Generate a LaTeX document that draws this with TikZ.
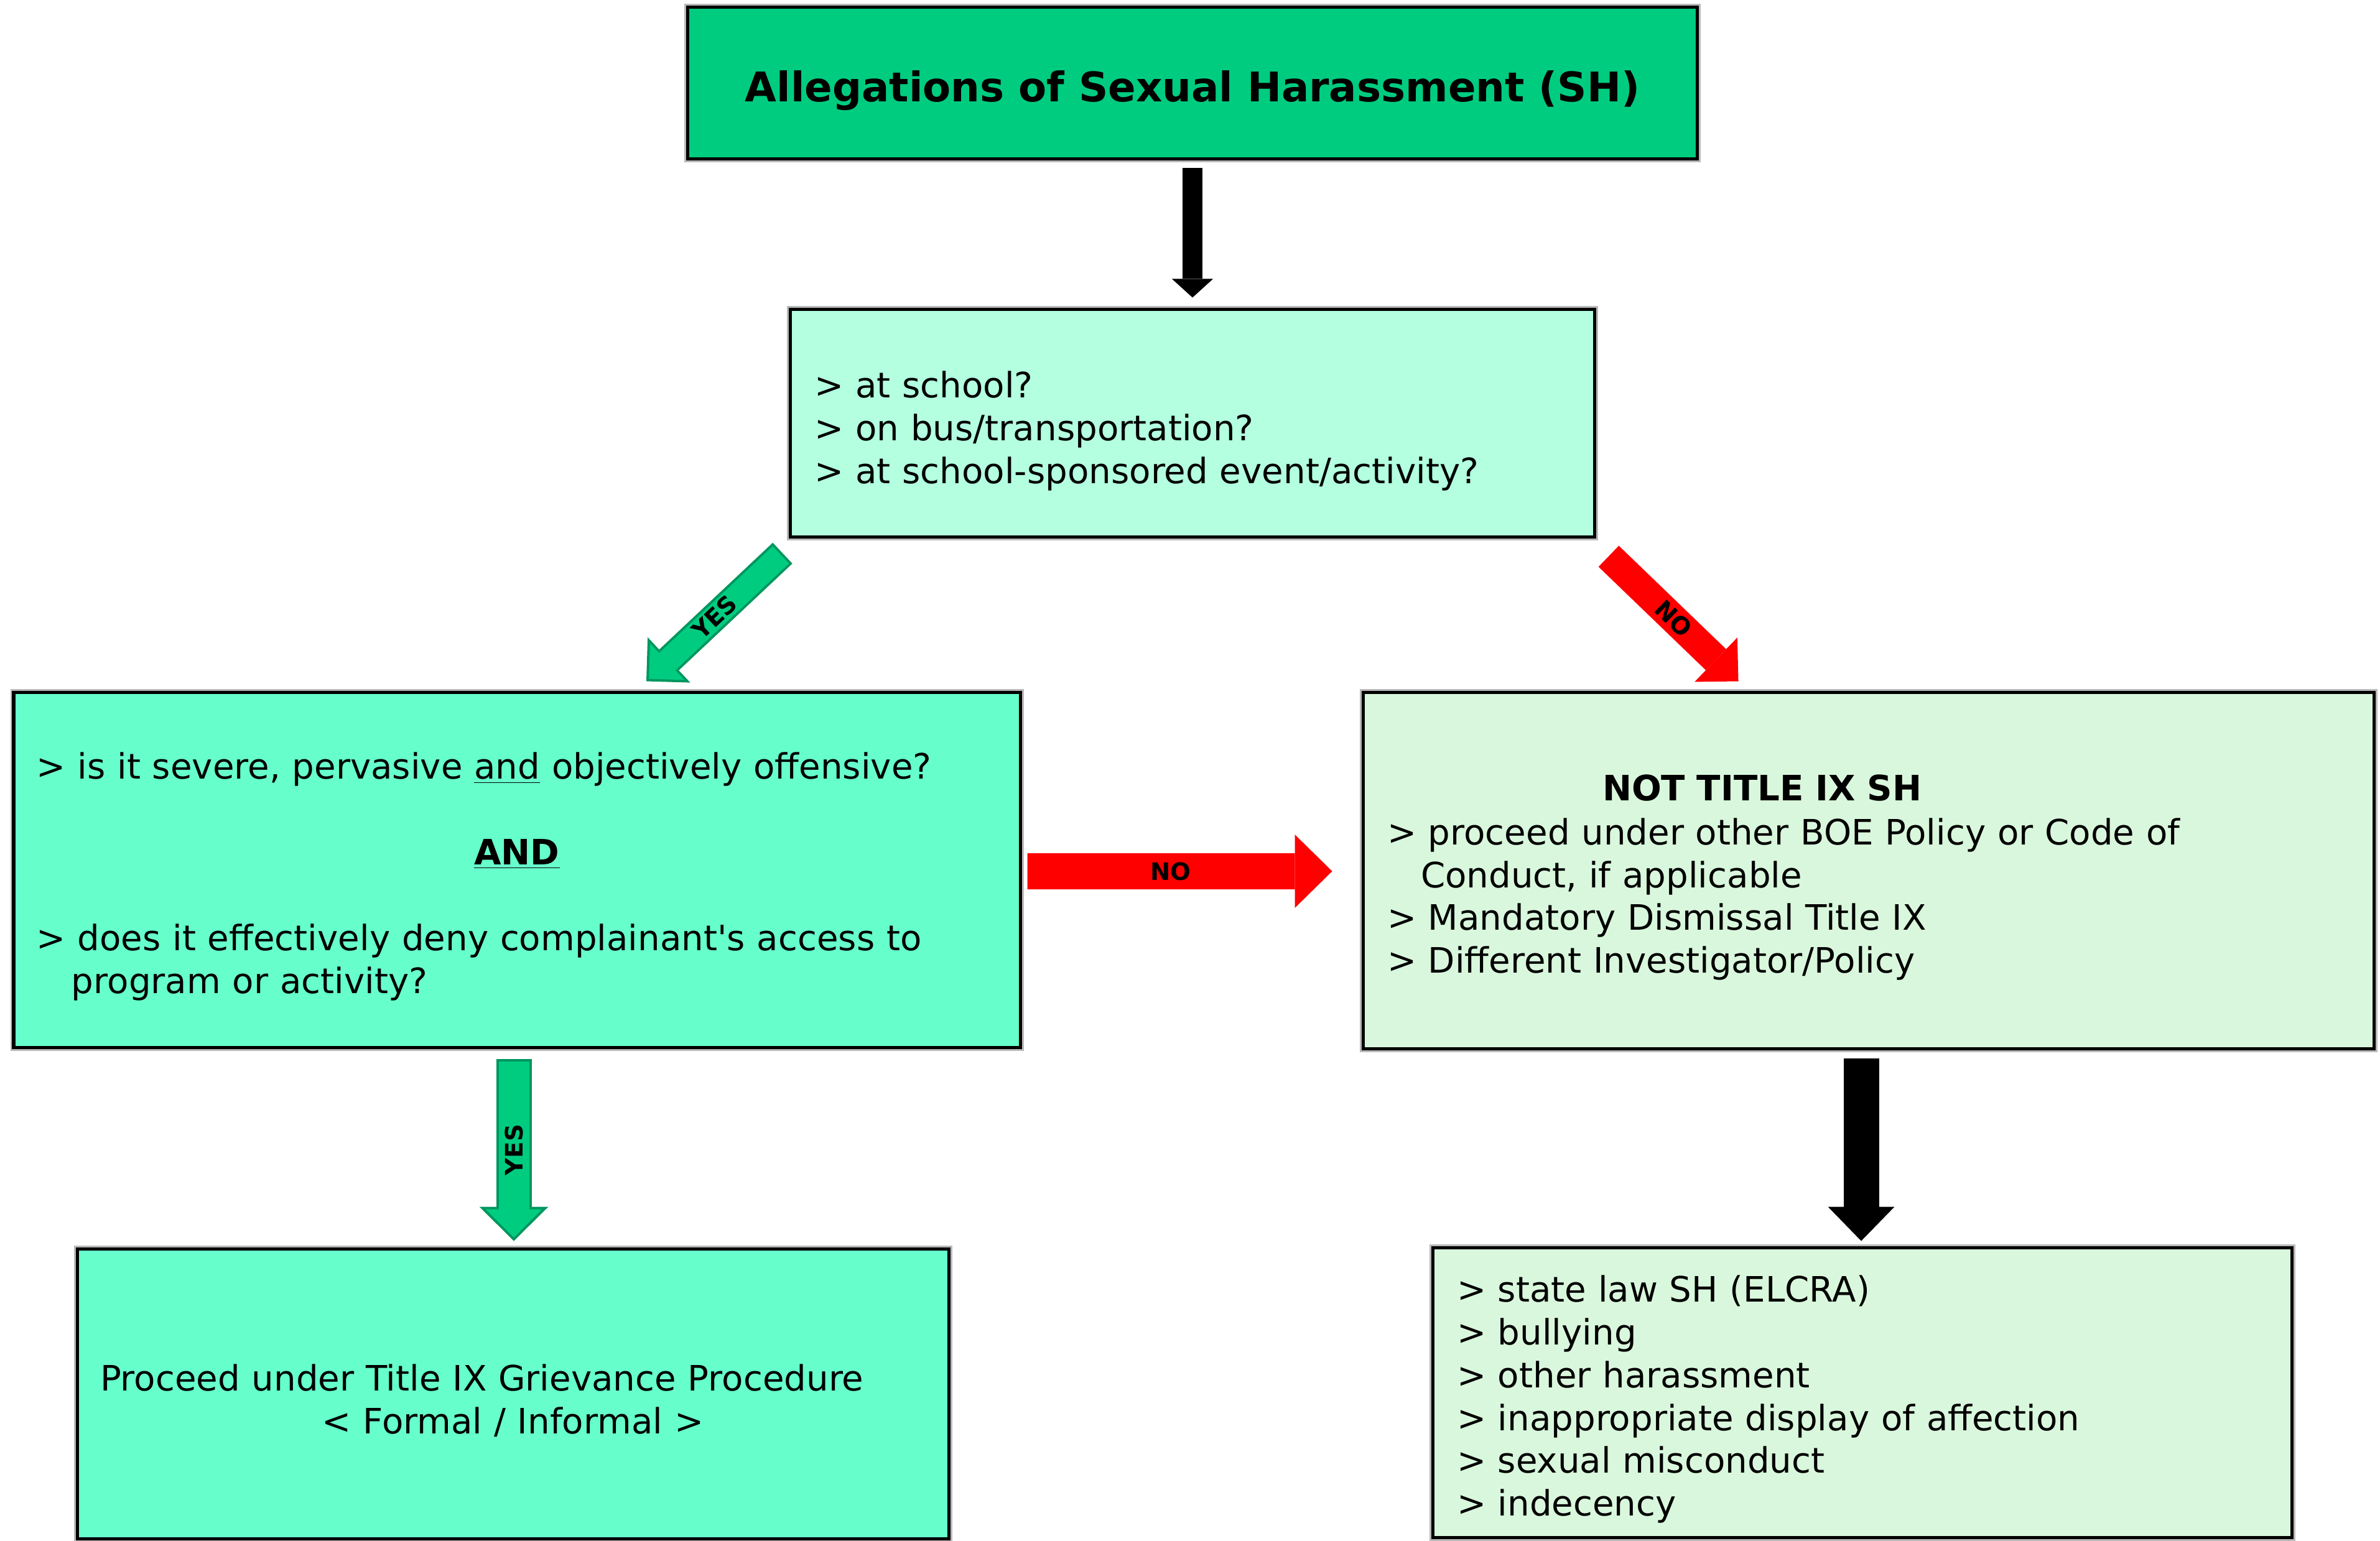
\documentclass[tikz,border=0pt]{standalone}
\usepackage{fontspec}
\setmainfont{DejaVu Sans}
\usetikzlibrary{arrows.meta}

\definecolor{titlegreen}{RGB}{0,204,128}
\definecolor{askmint}{RGB}{179,255,224}
\definecolor{critmint}{RGB}{102,255,204}
\definecolor{notgreen}{RGB}{217,247,220}
\definecolor{yesgreen}{RGB}{0,204,128}
\definecolor{yesdark}{RGB}{0,150,95}
\definecolor{nored}{RGB}{255,0,0}

\newcommand{\bodyfont}{\fontsize{16}{19.6}\selectfont}
\newcommand{\titlefont}{\fontsize{18.7}{22}\selectfont\bfseries}
\newcommand{\lowertxt}{\rule{0pt}{0.65cm}}

\tikzset{
  box/.style={draw=black, line width=0.05cm, preaction={draw=gray!55, line width=0.11cm},
    inner ysep=0pt, font=\bodyfont},
  txtbox/.style={box, align=left, inner xsep=0.38cm},
  tag/.style={font=\fontsize{11}{13}\selectfont\bfseries, inner sep=0pt},
  blkarrow/.style n args={3}{draw=black, line width=#1,
    -{Triangle[width=#2 0, length=#3 0, line width'=0pt]}},
  noarrow/.style n args={3}{draw=nored, line width=#1,
    -{Triangle[width=#2 0, length=#3 0, line width'=0pt]}},
  yesedge/.style n args={3}{draw=yesdark, line width=#1,
    -{Triangle[width=#2 0, length=#3 0, line width'=0pt]}},
  yesfill/.style n args={3}{draw=yesgreen, line width=#1, shorten <=0.04cm, shorten >=0.057cm,
    -{Triangle[width=#2 0, length=#3 0, line width'=0pt]}}
}

\begin{document}
\begin{tikzpicture}
  \useasboundingbox (0,0) rectangle (38.26,-24.78);

  % boxes
  \node[box, fill=titlegreen, minimum width=16.23cm, minimum height=2.44cm, font=\titlefont,
    text height=0.76cm, text depth=0.16cm]
    (top) at (19.17,-1.34) {Allegations of Sexual Harassment (SH)};
  \node[txtbox, fill=askmint, text width=12.15cm, inner xsep=0.39cm, minimum height=3.66cm]
    (ask) at (19.17,-6.81)
    {\rule{0pt}{0.67cm}> at school?\\ > on bus/transportation?\\ > at school-sponsored event/activity?};
  \node[txtbox, fill=critmint, text width=15.44cm, inner xsep=0.37cm, minimum height=5.71cm]
    (crit) at (8.31,-13.985)
    {\lowertxt> is it severe, pervasive \underline{and} objectively offensive?\\[19.6pt]
     \makebox[\linewidth]{\textbf{\underline{AND}}}\\[19.6pt]
     > does it effectively deny complainant\textquotesingle s access to\\
     \hspace*{0.56cm}program or activity?};
  \node[txtbox, fill=notgreen, text width=15.47cm, inner xsep=0.39cm, minimum height=5.73cm]
    (nottix) at (30.035,-13.995)
    {\lowertxt\hspace*{3.46cm}\textbf{NOT TITLE IX SH}\\[0.5pt]
     > proceed under other BOE Policy or Code of\\
     \hspace*{0.54cm}Conduct, if applicable\\
     > Mandatory Dismissal Title IX\\
     > Different Investigator/Policy};
  \node[txtbox, fill=critmint, text width=13.27cm, inner xsep=0.37cm, minimum height=4.66cm]
    (proc) at (8.245,-22.41)
    {\lowertxt Proceed under Title IX Grievance Procedure\\
     \makebox[\linewidth]{< Formal / Informal >}};
  \node[txtbox, fill=notgreen, text width=13.03cm, inner xsep=0.39cm, minimum height=4.66cm]
    (other) at (29.935,-22.39)
    {\lowertxt> state law SH (ELCRA)\\ > bullying\\ > other harassment\\
     > inappropriate display of affection\\ > sexual misconduct\\ > indecency};

  % arrow ends
  \coordinate (yesA) at ([shift={(-0.1,-0.23)}]ask.south west);
  \coordinate (yesB) at ([shift={(2.08,0.15)}]crit.north);
  \coordinate (downA) at ([shift={(-0.05,-0.16)}]crit.south);
  \coordinate (downB) at ([shift={(0.015,0.1)}]proc.north);

  % arrows
  \draw[blkarrow={0.32cm}{0.66cm}{0.3cm}] ([yshift=-0.12cm]top.south) -- ([yshift=0.17cm]ask.north);
  \draw[yesedge={0.46cm}{1cm}{0.5cm}] (yesA) -- (yesB);
  \draw[yesfill={0.38cm}{0.806cm}{0.403cm}] (yesA) -- (yesB) node[midway, sloped, tag] {YES};
  \draw[noarrow={0.47cm}{0.99cm}{0.5cm}] ([shift={(0.2,-0.28)}]ask.south east)
    -- ([shift={(6.06,0.15)}]nottix.north west) node[midway, sloped, tag] {NO};
  \draw[noarrow={0.58cm}{1.18cm}{0.6cm}] ([shift={(0.09,-0.025)}]crit.east)
    -- ([shift={(-0.47,-0.015)}]nottix.west) node[pos=0.47, tag] {NO};
  \draw[yesedge={0.57cm}{1.11cm}{0.55cm}] (downA) -- (downB);
  \draw[yesfill={0.49cm}{0.906cm}{0.453cm}] (downA) -- (downB) node[midway, rotate=90, tag] {YES};
  \draw[blkarrow={0.57cm}{1.07cm}{0.55cm}] ([shift={(-0.115,-0.13)}]nottix.south)
    -- ([shift={(-0.015,0.08)}]other.north);
\end{tikzpicture}
\end{document}
